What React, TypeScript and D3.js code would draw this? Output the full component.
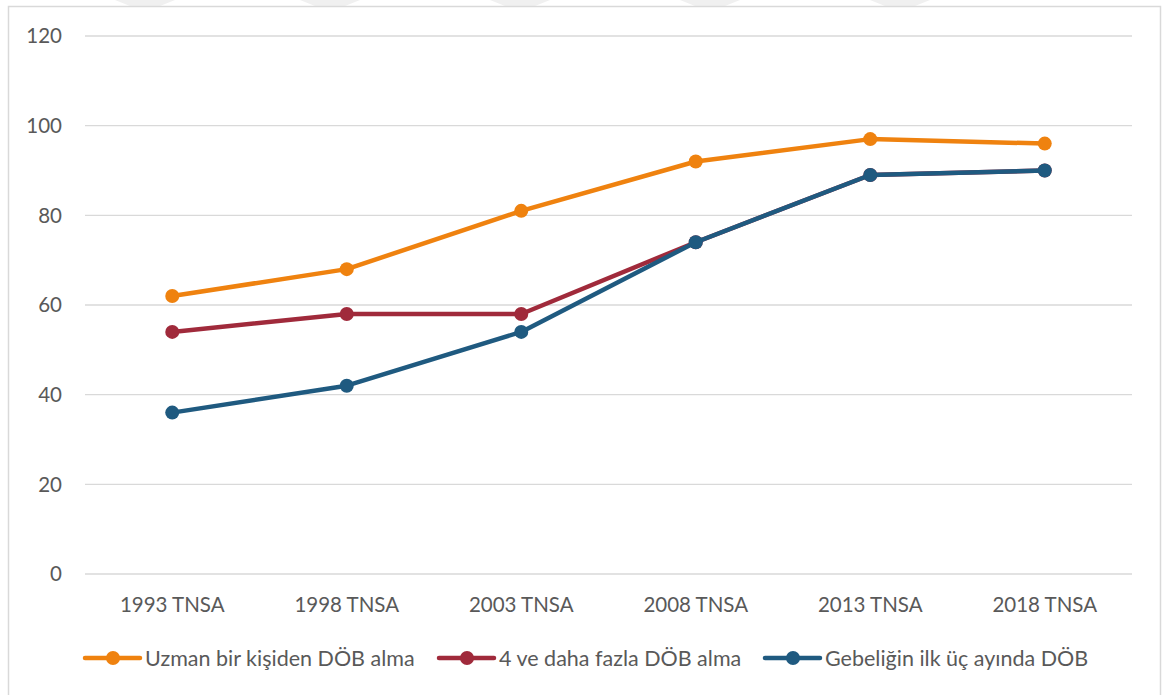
import React from 'react';
import * as d3 from 'd3';

// survey rounds on the x axis
const rounds = ['1993 TNSA', '1998 TNSA', '2003 TNSA', '2008 TNSA', '2013 TNSA', '2018 TNSA'];
const yTicks = [0, 20, 40, 60, 80, 100, 120];

const uzmanValues = [62, 68, 81, 92, 97, 96];
const dortVeUzeriValues = [54, 58, 58, 74, 89, 90];
const ilkUcAyValues = [36, 42, 54, 74, 89, 90];

const seriesNames = ['Uzman bir kişiden DÖB alma', '4 ve daha fazla DÖB alma', 'Gebeliğin ilk üç ayında DÖB'];
const seriesColors = ['#EF820F', '#A02A3B', '#1F5A80'];

const W = 1164;
const H = 695;
const FONT = 'Lato, "Open Sans", sans-serif';
const TEXT = '#595959';

const App = () => {
  const x = d3.scalePoint<string>().domain(rounds).range([85, 1132]).padding(0.5);
  const y = d3.scaleLinear().domain([0, 120]).range([574, 36]);

  const series = [uzmanValues, dortVeUzeriValues, ilkUcAyValues].map((vals, i) => ({
    name: seriesNames[i],
    color: seriesColors[i],
    points: vals.map((v, j) => ({ cat: rounds[j], v })),
  }));

  const line = d3
    .line<{ cat: string; v: number }>()
    .x(d => x(d.cat) as number)
    .y(d => y(d.v));

  // legend item left edges (line start)
  const legendX = [85, 439, 765];
  const legendY = 658;

  return (
    <svg width={W} height={H} style={{ position: 'absolute', left: 0, top: 0 }}>
      <rect width={W} height={H} fill="#fff" />
      {/* faint watermark wedges above the frame */}
      <g fill="#f0f0f0">
        {[115, 300, 490, 680, 870].map(wx => (
          <polygon key={wx} points={`${wx},0 ${wx + 60},0 ${wx + 45},6 ${wx + 15},6`} />
        ))}
      </g>
      <rect x={8.5} y={6.5} width={1152} height={700} fill="none" stroke="#d9d9d9" strokeWidth={1.5} />

      {yTicks.map(t => (
        <g key={t}>
          <line x1={85} x2={1132} y1={y(t)} y2={y(t)} stroke="#d9d9d9" strokeWidth={1.3} />
          <text
            x={62}
            y={y(t)}
            dy="0.35em"
            textAnchor="end"
            fontFamily={FONT}
            fontSize={20.5}
            fill={TEXT}
          >
            {t}
          </text>
        </g>
      ))}

      {rounds.map(r => (
        <text
          key={r}
          x={x(r)}
          y={612}
          textAnchor="middle"
          fontFamily={FONT}
          fontSize={20.5}
          fill={TEXT}
        >
          {r}
        </text>
      ))}

      {series.map(s => (
        <g key={s.name}>
          <path d={line(s.points) || ''} fill="none" stroke={s.color} strokeWidth={4.5} strokeLinejoin="round" />
          {s.points.map(p => (
            <circle key={p.cat} cx={x(p.cat)} cy={y(p.v)} r={7} fill={s.color} />
          ))}
        </g>
      ))}

      {series.map((s, i) => (
        <g key={s.name} transform={`translate(${legendX[i]},${legendY})`}>
          <line x1={0} x2={55} y1={0} y2={0} stroke={s.color} strokeWidth={4.5} strokeLinecap="round" />
          <circle cx={28} cy={0} r={7} fill={s.color} />
          <text x={60} y={0} dy="0.35em" fontFamily={FONT} fontSize={21.5} fill={TEXT}>
            {s.name}
          </text>
        </g>
      ))}
    </svg>
  );
};

export default App;
